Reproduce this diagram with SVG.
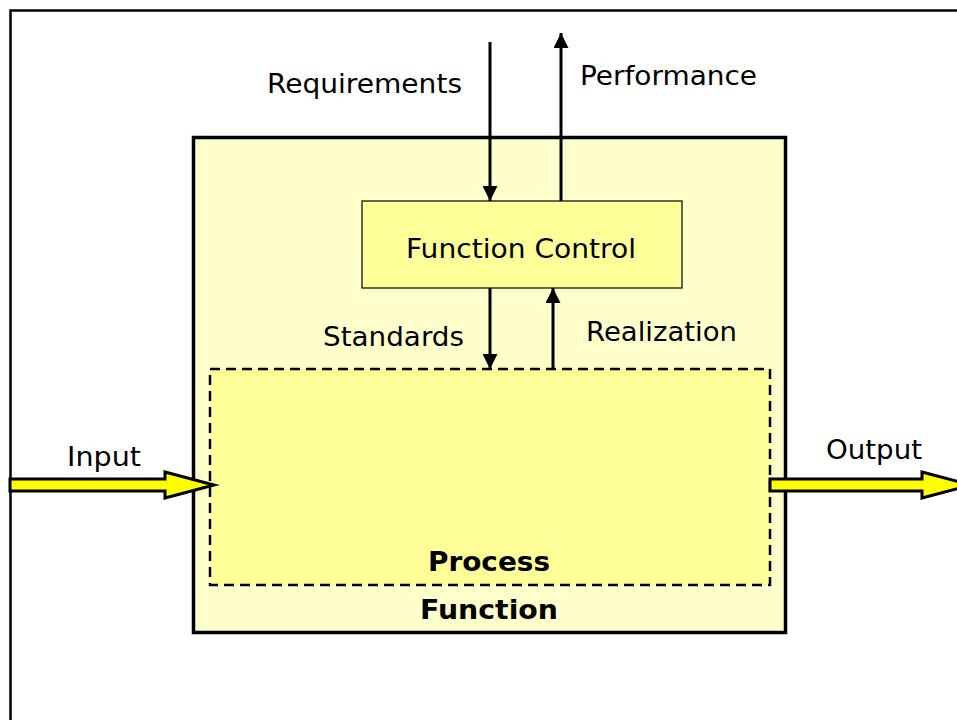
<svg xmlns="http://www.w3.org/2000/svg" width="957" height="720" viewBox="0 0 957 720">
  <style>
    .lbl { font-family: "DejaVu Sans", Verdana, sans-serif; font-size: 26px; fill: #000; }
    .bold { font-weight: bold; }
    .wire { stroke: #000; stroke-width: 3; fill: none; }
    .flow { fill: #FFFF00; stroke: #000; stroke-width: 3; stroke-linejoin: miter; }
  </style>
  <defs>
    <marker id="head" viewBox="0 0 10 10" refX="10" refY="5" markerWidth="5" markerHeight="5" orient="auto" markerUnits="strokeWidth">
      <path d="M0,0 L10,5 L0,10 Z" fill="#000"/>
    </marker>
  </defs>

  <!-- page frame -->
  <rect x="0" y="0" width="957" height="720" fill="#fff"/>
  <path d="M10.5,720 V10.5 H957" fill="none" stroke="#000" stroke-width="2.5"/>

  <g id="function">
    <rect x="193.5" y="137.5" width="592" height="495" fill="#FFFFCC" stroke="#000" stroke-width="3.5"/>
    <text class="lbl bold" x="489" y="619" text-anchor="middle" textLength="138" lengthAdjust="spacingAndGlyphs">Function</text>
  </g>

  <g id="process">
    <rect x="210" y="369" width="560" height="216" fill="#FFFF99" stroke="#000" stroke-width="2.5" stroke-dasharray="10 6"/>
    <text class="lbl bold" x="489" y="571" text-anchor="middle" textLength="122" lengthAdjust="spacingAndGlyphs">Process</text>
  </g>

  <g id="function-control">
    <rect x="362" y="201" width="320" height="87" fill="#FFFF99" stroke="#000" stroke-width="1.2"/>
    <text class="lbl" x="521" y="258" text-anchor="middle" textLength="230" lengthAdjust="spacingAndGlyphs">Function Control</text>
  </g>

  <g id="connectors">
    <line class="wire" x1="490" y1="42" x2="490" y2="201" marker-end="url(#head)"/>
    <line class="wire" x1="561" y1="201" x2="561" y2="33" marker-end="url(#head)"/>
    <line class="wire" x1="490" y1="288" x2="490" y2="369" marker-end="url(#head)"/>
    <line class="wire" x1="553" y1="369" x2="553" y2="288" marker-end="url(#head)"/>
    <path class="flow" d="M10,479 H165 V472 L214,485 L165,498 V491 H10 Z"/>
    <path class="flow" d="M770,479 H922 V472 L971,485 L922,498 V491 H770 Z"/>
  </g>

  <g id="labels">
    <text class="lbl" x="267" y="93" textLength="195" lengthAdjust="spacingAndGlyphs">Requirements</text>
    <text class="lbl" x="580" y="85" textLength="177" lengthAdjust="spacingAndGlyphs">Performance</text>
    <text class="lbl" x="323" y="346" textLength="141" lengthAdjust="spacingAndGlyphs">Standards</text>
    <text class="lbl" x="586" y="341" textLength="151" lengthAdjust="spacingAndGlyphs">Realization</text>
    <text class="lbl" x="67" y="466" textLength="74" lengthAdjust="spacingAndGlyphs">Input</text>
    <text class="lbl" x="826" y="459" textLength="96" lengthAdjust="spacingAndGlyphs">Output</text>
  </g>
</svg>
